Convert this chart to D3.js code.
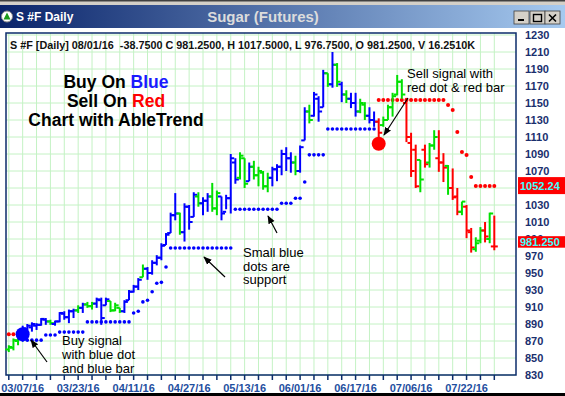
<!DOCTYPE html>
<html><head><meta charset="utf-8">
<script src="https://cdn.jsdelivr.net/npm/d3@7/dist/d3.min.js"></script>
<style>body{margin:0;background:#fff;overflow:hidden}svg{display:block;font-family:Arial,"Liberation Sans",sans-serif}</style>
</head><body><svg id="c" width="565" height="396"></svg>
<script>
// ---- data ----
const trend = ["g","g","g","b","b","b","b","b","b","g","b","b","b","b","b","g","b","g","g","b","b","b","g","g","g","b","b","b","b","g","b","b","b","b","b","b","b","g","b","b","b","g","b","b","g","g","b","b","b","b","g","g","b","g","g","g","g","b","b","b","b","b","g","b","b","g","b","b","b","g","b","g","b","g","b","b","g","g","b","b","r","g","g","g","g","g","r","r","r","g","r","g","g","r","r","g","r","r","g","r","r","g","g","r","g","r"];
const openP = [860,862,870,872,884,886,888,889,895,893,890,893,902,898,905,906,909,913,911,914,918,912,917,906,909,905,918,928,934,945,955,950,962,968,983,997,1018,1020,998,1028,1016,1040,1032,1035,1040,1026,1040,1022,1038,1080,1062,1085,1058,1075,1065,1068,1052,1062,1072,1075,1090,1085,1080,1070,1106,1140,1135,1155,1145,1185,1172,1195,1172,1160,1155,1150,1140,1148,1135,1130,1128,1124,1130,1145,1160,1175,1150,1103,1095,1083,1095,1080,1100,1085,1080,1076,1050,1040,1022,1028,998,978,988,1000,990,981.25];
const highP = [865,873,879,888,890,892,891,897,897,895,894,904,905,907,908,912,915,916,916,921,921,921,917,915,909,918,930,936,944,960,957,965,971,985,997,1021,1044,1021,1032,1030,1045,1045,1039,1044,1056,1047,1040,1042,1090,1085,1092,1085,1080,1082,1075,1070,1068,1075,1078,1095,1098,1092,1088,1100,1145,1148,1163,1158,1189,1185,1210,1197,1175,1165,1162,1162,1155,1151,1145,1140,1132,1134,1148,1162,1183,1178,1156,1115,1101,1083,1101,1103,1118,1118,1091,1077,1073,1050,1034,1030,1003,992,1004,1010,1021,1017.5];
const lowP = [857,859,865,869,876,881,883,888,889,889,888,892,895,891,897,903,903,909,907,909,889,912,904,905,903,903,918,927,930,945,942,948,959,965,983,997,1012,995,987,1001,1016,1028,1018,1022,1022,1018,1012,1025,1020,1055,1060,1050,1058,1060,1052,1048,1045,1052,1058,1065,1070,1068,1065,1068,1106,1126,1134,1128,1145,1169,1168,1169,1151,1150,1144,1134,1138,1130,1126,1122,1106,1122,1130,1134,1159,1155,1104,1063,1050,1045,1074,1074,1095,1069,1057,1042,1036,1018,1018,991,974,975,985,986,985,976.75];
const closeP = [863,871,876,885,888,890,889,896,893,891,893,903,898,905,906,909,913,911,914,919,897,919,906,912,905,916,928,934,942,955,950,962,968,982,995,1018,1020,998,1028,1010,1042,1032,1035,1040,1026,1044,1020,1038,1085,1060,1088,1055,1075,1065,1070,1052,1062,1072,1075,1090,1085,1080,1070,1098,1140,1130,1160,1140,1185,1172,1195,1175,1160,1155,1150,1140,1150,1135,1130,1128,1115,1130,1145,1158,1175,1160,1110,1070,1052,1060,1078,1100,1110,1080,1074,1050,1039,1022,1034,1000,980,985,1000,993,1020,981.25];
// support (blue) and resistance (red) stop dots, by bar; null = none
const supportDot = [null,null,null,null,871,871,871,871,877,877,877,880.5,880.5,880.5,880.5,880.5,880.5,892.5,892.5,892.5,892.5,892.5,892.5,892.5,892.5,892.5,892.5,903,905,916,918,928,938,939,957,979.5,979.5,979.5,979.5,979.5,979.5,979.5,979.5,979.5,979.5,979.5,979.5,979.5,979.5,1025,1025,1025,1025,1025,1025,1025,1025,1025,1025,1032,1032,1032,1038,1038,1057,1089,1089,1089,1089,1119.5,1119.5,1119.5,1119.5,1119.5,1119.5,1119.5,1119.5,1119.5,1119.5,1119.5,null,null,null,null,null,null,null,null,null,null,null,null,null,null,null,null,null,null,null,null,null,null,null,null,null,null];
const resistDot = [878,878,878,null,null,null,null,null,null,null,null,null,null,null,null,null,null,null,null,null,null,null,null,null,null,null,null,null,null,null,null,null,null,null,null,null,null,null,null,null,null,null,null,null,null,null,null,null,null,null,null,null,null,null,null,null,null,null,null,null,null,null,null,null,null,null,null,null,null,null,null,null,null,null,null,null,null,null,null,null,1153.5,1153.5,1153.5,1153.5,1153.5,1153.5,1153.5,1153.5,1153.5,1153.5,1153.5,1153.5,1153.5,1153.5,1153.5,1147.6,1141.8,1115.9,1092.4,1088.8,1062.9,1052.24,1052.24,1052.24,1052.24,1052.24];
const signals = [{bar:3, price:878, type:"buy"},{bar:80, price:1102, type:"sell"}];
const dateLabels = ["03/07/16","03/23/16","04/11/16","04/27/16","05/13/16","06/01/16","06/17/16","07/06/16","07/22/16"];
const dateLabelBars = [3,15,27,39,51,63,75,87,99];
const priceTicks = [830,850,870,890,910,930,950,970,990,1010,1030,1050,1070,1090,1110,1130,1150,1170,1190,1210,1230];
const lastClose = 981.25, lastStop = 1052.24;
const infoText = "S #F [Daily] 08/01/16  -38.7500 C 981.2500, H 1017.5000, L 976.7500, O 981.2500, V 16.2510K";

// ---- drawing ----
const svg = d3.select("#c");
const W = 565, H = 396;
const frame = {l:6, r:516, t:33, b:375};
const x = d3.scaleLinear().domain([0,105]).range([8.8,494.3]);
const y = d3.scaleLinear().domain([830,1230]).range([375,35]);
const colors = {b:"#0000ff", g:"#00e000", r:"#ff0000"};

svg.append("rect").attr("width",W).attr("height",H).attr("fill","#fff");

// window chrome
const defs = svg.append("defs");
const grad = defs.append("linearGradient").attr("id","tg");
grad.append("stop").attr("offset","0").attr("stop-color","#0a246a");
grad.append("stop").attr("offset","1").attr("stop-color","#a6caf0");
svg.append("rect").attr("x",0).attr("y",0).attr("width",W).attr("height",5).attr("fill","#d4d0c8");
svg.append("rect").attr("x",0).attr("y",0).attr("width",W).attr("height",1.5).attr("fill","#404040");
svg.append("rect").attr("x",0).attr("y",5).attr("width",W).attr("height",23).attr("fill","url(#tg)");
svg.append("circle").attr("cx",7).attr("cy",16.5).attr("r",5.5).attr("fill","#fff").attr("stroke","#888");
svg.append("path").attr("d","M7,12.5 L10.5,19.5 L3.5,19.5 Z").attr("fill","#1a9a1a");
svg.append("text").attr("x",16).attr("y",21).attr("fill","#fff").attr("font-weight","bold").attr("font-size",12).text("S #F Daily");
svg.append("text").attr("x",263).attr("y",22).attr("text-anchor","middle").attr("fill","#dcdcdc").attr("font-weight","bold").attr("font-size",15).text("Sugar (Futures)");
[514,530,545].forEach((bx,k)=>{
  const g = svg.append("g");
  g.append("rect").attr("x",bx).attr("y",11).attr("width",15).attr("height",13).attr("fill","#d4d0c8").attr("stroke","#404040").attr("stroke-width",0.8);
  if(k===0) g.append("rect").attr("x",bx+4).attr("y",19).attr("width",6).attr("height",2).attr("fill","#000");
  if(k===1) g.append("rect").attr("x",bx+3.5).attr("y",14.5).attr("width",8).attr("height",7).attr("fill","none").attr("stroke","#000").attr("stroke-width",1.4);
  if(k===2) g.append("path").attr("d",`M${bx+4},14.5 L${bx+11},21.5 M${bx+11},14.5 L${bx+4},21.5`).attr("stroke","#000").attr("stroke-width",1.6);
});

// grid
const gridC = "#c4f2c4";
const minorBars = d3.range(0,106,3);
svg.append("g").selectAll("line").data(minorBars).join("line")
  .attr("x1",d=>x(d)).attr("x2",d=>x(d)).attr("y1",frame.t).attr("y2",frame.b)
  .attr("stroke",gridC).attr("stroke-width",1);
svg.append("g").selectAll("line").data(priceTicks).join("line")
  .attr("x1",frame.l).attr("x2",frame.r).attr("y1",d=>y(d)).attr("y2",d=>y(d))
  .attr("stroke",gridC).attr("stroke-width",1);

// frame
svg.append("rect").attr("x",frame.l).attr("y",frame.t).attr("width",frame.r-frame.l).attr("height",frame.b-frame.t)
  .attr("fill","none").attr("stroke","#0c2d6b").attr("stroke-width",1.5);

// x axis ticks + labels
svg.append("g").selectAll("line").data(minorBars).join("line")
  .attr("x1",d=>x(d)).attr("x2",d=>x(d)).attr("y1",frame.b).attr("y2",frame.b+5)
  .attr("stroke","#0c2d6b").attr("stroke-width",1.5);
svg.append("g").selectAll("text").data(dateLabels).join("text")
  .attr("x",(d,i)=>x(dateLabelBars[i])).attr("y",392).attr("text-anchor","middle")
  .attr("fill","#1f4f9f").attr("font-weight","bold").attr("font-size",11).text(d=>d);

// y axis labels (1050 sits under the stop box, as in the original)
const yAxis = d3.axisRight(y).tickValues(priceTicks.filter(v=>v!==1050)).tickSize(0).tickPadding(0).tickFormat(d3.format("d"));
const ya = svg.append("g").attr("transform","translate(525,0)").call(yAxis);
ya.select(".domain").remove();
ya.selectAll("text").attr("fill","#1a2f6e").attr("font-weight","bold").attr("font-size",11).attr("font-family","Arial, Liberation Sans, sans-serif");

// price boxes
function priceBox(v, label, hgt, dy){
  const g = svg.append("g");
  const cy = y(v) + dy;
  g.append("rect").attr("x",518).attr("y",cy-hgt/2).attr("width",50).attr("height",hgt).attr("fill","#ff0000");
  g.append("text").attr("x",520).attr("y",cy+4).attr("fill","#40ffff").attr("font-weight","bold").attr("font-size",11).text(label);
}
priceBox(lastStop, "1052.24", 17, -0.5);
priceBox(lastClose, "981.250", 11.5, -4.5);

// info text
svg.append("text").attr("x",10).attr("y",49).attr("fill","#111").attr("font-size",10.8).attr("font-weight","bold")
  .style("white-space","pre").text(infoText);

// stop dots
const idx = d3.range(trend.length);
svg.append("g").selectAll("circle").data(idx.filter(i=>supportDot[i]!=null)).join("circle")
  .attr("cx",i=>x(i)).attr("cy",i=>y(supportDot[i])).attr("r",1.8).attr("fill","#0000ff");
svg.append("g").selectAll("circle").data(idx.filter(i=>resistDot[i]!=null)).join("circle")
  .attr("cx",i=>x(i)).attr("cy",i=>y(resistDot[i])).attr("r",2).attr("fill","#ff0000");

// bars
const bars = svg.append("g").attr("stroke-width",2);
bars.selectAll("g").data(idx).join("g").each(function(i){
  const g = d3.select(this), c = colors[trend[i]], xi = x(i);
  g.append("line").attr("x1",xi).attr("x2",xi).attr("y1",y(highP[i])).attr("y2",y(lowP[i])).attr("stroke",c);
  g.append("line").attr("x1",xi-3.5).attr("x2",xi).attr("y1",y(openP[i])).attr("y2",y(openP[i])).attr("stroke",c);
  g.append("line").attr("x1",xi).attr("x2",xi+3.5).attr("y1",y(closeP[i])).attr("y2",y(closeP[i])).attr("stroke",c);
});

// signal dots
svg.append("g").selectAll("circle").data(signals).join("circle")
  .attr("cx",d=>x(d.bar)).attr("cy",d=>y(d.price)).attr("r",7)
  .attr("fill",d=>d.type==="buy"?"#0000ff":"#ff0000");

// headline
const head = svg.append("g").attr("font-weight","bold").attr("font-size",17.5).attr("text-anchor","middle").attr("fill","#000");
const t1 = head.append("text").attr("x",116).attr("y",88);
t1.append("tspan").text("Buy On ");
t1.append("tspan").attr("fill","#1a1aff").text("Blue");
const t2 = head.append("text").attr("x",116).attr("y",107);
t2.append("tspan").text("Sell On ");
t2.append("tspan").attr("fill","#ff0000").text("Red");
head.append("text").attr("x",116).attr("y",126).text("Chart with AbleTrend");

// annotations
defs.append("marker").attr("id","ah").attr("viewBox","0 0 10 10").attr("refX",9).attr("refY",5)
  .attr("markerWidth",7).attr("markerHeight",7).attr("orient","auto")
  .append("path").attr("d","M0,1 L10,5 L0,9 Z").attr("fill","#000");
function note(lines, tx, ty, lh){
  const t = svg.append("text").attr("font-size",13).attr("fill","#000");
  lines.forEach((s,k)=>t.append("tspan").attr("x",tx).attr("y",ty+k*lh).text(s));
}
function arrow(x1,y1,x2,y2){
  svg.append("line").attr("x1",x1).attr("y1",y1).attr("x2",x2).attr("y2",y2)
    .attr("stroke","#000").attr("stroke-width",1.2).attr("marker-end","url(#ah)");
}
note(["Buy signal","with blue dot","and blue bar"], 62, 345, 14);
arrow(47,362,31,340);
note(["Small blue","dots are","support"], 243, 257, 13.5);
arrow(225,277,204,257);
arrow(277,233,268,216);
note(["Sell signal with","red dot & red bar"], 407, 78, 14);
arrow(408,98,384,135);

svg.append("rect").attr("x",0).attr("y",393).attr("width",W).attr("height",3).attr("fill","#000");
</script></body></html>
